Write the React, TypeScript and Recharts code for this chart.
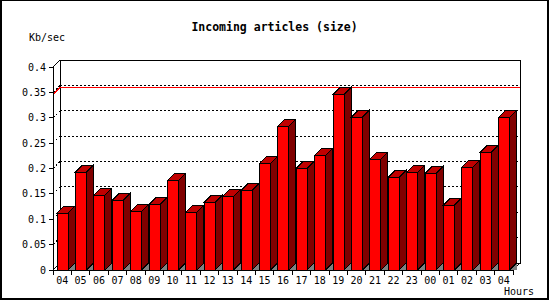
import React from 'react';
import { BarChart, Bar, XAxis, YAxis, ReferenceLine, ReferenceArea, Customized } from 'recharts';

const hours = ['04', '05', '06', '07', '08', '09', '10', '11', '12', '13', '14', '15', '16',
  '17', '18', '19', '20', '21', '22', '23', '00', '01', '02', '03', '04'];
const sizes = [0.112, 0.1925, 0.147, 0.137, 0.1156, 0.1294, 0.1767, 0.1137, 0.1333, 0.145, 0.157, 0.21, 0.283,
  0.2, 0.226, 0.346, 0.301, 0.218, 0.1827, 0.1925, 0.1905, 0.1275, 0.2024, 0.232, 0.301];
const yTicks = [0, 0.05, 0.1, 0.15, 0.2, 0.25, 0.3, 0.35, 0.4];
const gridValues = [0.05, 0.1, 0.15, 0.2, 0.25, 0.3, 0.35];

const data = hours.map((hour, i) => ({ hour, size: sizes[i] }));
const maxSize = Math.max(...sizes);

const DEPTH = 7;
const FONT = '"DejaVu Sans Mono", monospace';

// 3D bar: gray floor shadow, dark side, mid top, bright front
const Bar3D = (props: any) => {
  const { x, y, width, height } = props;
  const d = DEPTH;
  const r = x + width;
  const b = y + height;
  return (
    <g>
      <polygon points={`${r},${b} ${r + d},${b - d} ${r + d},${b}`} fill="#808080" />
      <polygon points={`${r},${y} ${r + d},${y - d} ${r + d},${b - d} ${r},${b}`} fill="#800000" stroke="#000" />
      <polygon points={`${x},${y} ${x + d},${y - d} ${r + d},${y - d} ${r},${y}`} fill="#c00000" stroke="#000" />
      <rect x={x} y={y} width={width} height={height} fill="#ff0000" stroke="#000" />
    </g>
  );
};

const Wall = (props: any) => {
  const { x, y, width, height } = props;
  const d = DEPTH;
  const r = x + width;
  const b = y + height;
  return (
    <g stroke="#000" fill="none">
      <rect x={x + d} y={y - d} width={width} height={height} fill="#fff" />
      <line x1={x} y1={y} x2={x + d} y2={y - d} />
      <line x1={x} y1={b} x2={x + d} y2={b - d} />
      <line x1={r} y1={b} x2={r + d} y2={b - d} />
    </g>
  );
};

const GridLine = (props: any) => {
  const { x1, y1, x2, y2 } = props;
  const d = DEPTH;
  return (
    <g stroke="#000" strokeDasharray="2 2">
      <line x1={x1} y1={y1} x2={x1 + d} y2={y1 - d} />
      <line x1={x1 + d} y1={y1 - d} x2={x2 + d} y2={y2 - d} />
    </g>
  );
};

const MaxLine = (props: any) => {
  const { x1, y1, x2, y2 } = props;
  const d = DEPTH;
  return (
    <g stroke="#ff0000">
      <line x1={x1} y1={y1} x2={x1 + d} y2={y1 - d} />
      <line x1={x1 + d} y1={y1 - d} x2={x2 + d} y2={y2 - d} />
    </g>
  );
};

const HourTick = (props: any) => {
  const { x, y, payload, index, visibleTicksCount } = props;
  const off = payload.offset ?? 0;
  const top = y - 7;
  return (
    <g>
      <line x1={x - off} y1={top} x2={x - off} y2={top + 5} stroke="#000" />
      {index === visibleTicksCount - 1 && (
        <line x1={x + off} y1={top} x2={x + off} y2={top + 5} stroke="#000" />
      )}
      <text x={x} y={y} dy="0.71em" textAnchor="middle" fill="#000" fontSize={10} fontFamily={FONT}>
        {payload.value}
      </text>
    </g>
  );
};

const Decor = () => (
  <g>
    <g stroke="#000">
      <line x1={0} y1={0.5} x2={549} y2={0.5} />
      <line x1={1} y1={0} x2={1} y2={300} strokeWidth={2} />
      <line x1={548} y1={0} x2={548} y2={300} strokeWidth={2} />
      <line x1={0} y1={299} x2={549} y2={299} strokeWidth={2} />
    </g>
    <text x={274.5} y={31} textAnchor="middle" fontSize={11.5} fontWeight="bold" fontFamily={FONT} fill="#000">
      Incoming articles (size)
    </text>
    <text x={29} y={41} fontSize={10} fontFamily={FONT} fill="#000">Kb/sec</text>
    <text x={504} y={295} fontSize={10} fontFamily={FONT} fill="#000">Hours</text>
  </g>
);

export default function App() {
  return (
    <div style={{ position: 'absolute', left: 0, top: 0, background: '#fff' }}>
      <BarChart
        width={550}
        height={300}
        data={data}
        margin={{ top: 67, right: 37, bottom: 0, left: 0 }}
        style={{ shapeRendering: 'crispEdges' }}
      >
        <Customized component={<Decor />} />
        <XAxis
          dataKey="hour"
          interval={0}
          height={30}
          tickSize={5}
          tickMargin={2}
          tickLine={false}
          axisLine={{ stroke: '#000' }}
          tick={<HourTick />}
        />
        <YAxis
          type="number"
          domain={[0, 0.4]}
          ticks={yTicks}
          width={53}
          tickSize={4}
          tickMargin={3}
          tickFormatter={(v: number) => String(v)}
          axisLine={{ stroke: '#000' }}
          tickLine={{ stroke: '#000' }}
          tick={{ fill: '#000', fontSize: 10, fontFamily: FONT }}
        />
        <ReferenceArea y1={0} y2={0.4} shape={<Wall />} zIndex={40} />
        {gridValues.map((v) => (
          <ReferenceLine key={v} y={v} shape={<GridLine />} zIndex={50} />
        ))}
        <ReferenceLine y={maxSize} shape={<MaxLine />} zIndex={60} />
        <Bar dataKey="size" barSize={11} shape={<Bar3D />} isAnimationActive={false} />
      </BarChart>
    </div>
  );
}
